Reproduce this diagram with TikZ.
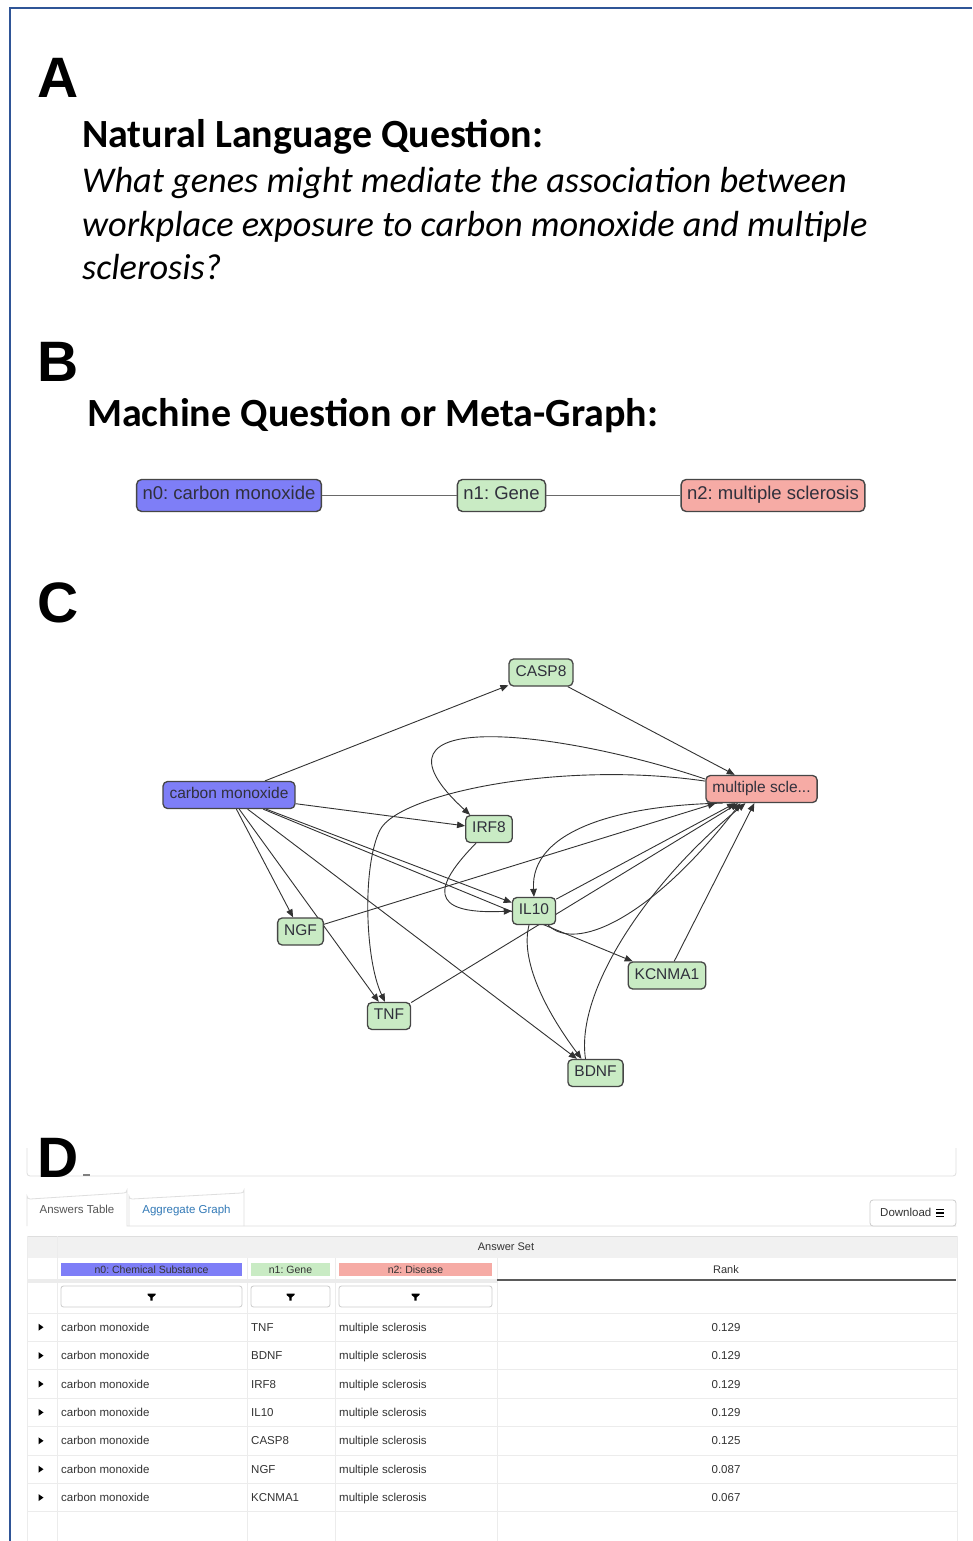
\documentclass[tikz,border=0pt]{standalone}
\usepackage{fontspec}
\setmainfont{Liberation Sans}
\newfontfamily\calfont{Carlito}
\usetikzlibrary{arrows.meta,backgrounds}
\frenchspacing

\definecolor{frameblue}{RGB}{47,85,151}
\definecolor{chemblue}{RGB}{126,126,247}
\definecolor{genegreen}{RGB}{201,235,196}
\definecolor{dissalmon}{RGB}{246,171,165}
\definecolor{nodeline}{RGB}{70,70,70}
\definecolor{nodetext}{RGB}{48,48,60}
\definecolor{edgegray}{RGB}{50,50,50}
\definecolor{metaline}{RGB}{105,105,105}
\definecolor{gridgray}{RGB}{222,222,222}
\definecolor{faintgray}{RGB}{236,236,236}
\definecolor{hdrgray}{RGB}{241,241,241}
\definecolor{tabtext}{RGB}{85,85,85}
\definecolor{linkblue}{RGB}{51,122,183}
\definecolor{celltext}{RGB}{51,51,51}
\definecolor{btnline}{RGB}{204,204,204}
\definecolor{sortline}{RGB}{90,90,90}

\newcommand{\fsz}[1]{\fontsize{#1}{#1}\selectfont}

\tikzset{
  funnel/.pic={\fill[black] (-4,-3) -- (4,-3) -- (4,-1.6) -- (1.2,0.8) -- (1.2,4) -- (-1.2,4) -- (-1.2,0.8) -- (-4,-1.6) -- cycle;},
  expander/.pic={\fill[black] (-2.5,-3.5) -- (2.5,0) -- (-2.5,3.5) -- cycle;},
}

\begin{document}
\begin{tikzpicture}[x=1pt,y=-1pt,
  letter/.style={anchor=base west,inner sep=0pt,font=\bfseries\fsz{57}},
  heading/.style={anchor=base west,inner sep=0pt,font=\calfont\bfseries\fsz{40}},
  question/.style={anchor=base west,inner sep=0pt,font=\calfont\itshape\fsz{36.3}},
  metanode/.style={draw=nodeline,line width=1.4pt,rounded corners=5pt,minimum height=32pt,inner xsep=6pt,inner ysep=0pt,text height=0.72em,text depth=0pt,text=nodetext,font=\fsz{18.5}},
  metaedge/.style={draw=metaline,line width=1.6pt},
  gnode/.style={draw=nodeline,line width=1.3pt,rounded corners=4.5pt,minimum height=27pt,inner xsep=6.5pt,inner ysep=0pt,text height=0.72em,text depth=0pt,text=nodetext,font=\fsz{15.5},fill=genegreen},
  gedge/.style={draw=edgegray,line width=0.9pt,-{Triangle[length=8pt,width=6.5pt]}},
  tabtxt/.style={inner sep=0pt,text height=0.72em,text depth=0pt,font=\fsz{11.5}},
  hdrtxt/.style={inner sep=0pt,text height=0.72em,text depth=0pt,font=\fsz{11},text=celltext},
  collabel/.style={inner sep=0pt,minimum height=13pt,text height=0.72em,text depth=0pt,font=\fsz{10.5},text=celltext},
  filterbtn/.style={draw=btnline,line width=0.8pt,rounded corners=2.5pt,fill=white,minimum height=21pt,inner sep=0pt},
  cell/.style={anchor=base west,inner sep=0pt,font=\fsz{11.5},text=celltext},
  rankcell/.style={anchor=base,inner sep=0pt,font=\fsz{11.5},text=celltext},
]
\useasboundingbox (0,0) rectangle (972,1541);
\begin{pgfonlayer}{background}
  \fill[white] (0,0) rectangle (972,1541);
\end{pgfonlayer}

% outer frame
\draw[frameblue,line width=2.5pt] (10,1541) -- (10,8) -- (972,8);

% ---------- A: question in words ----------
\node[letter] (letA) at (37,98) {A};
\node[heading] (nlq) at (82,148) {Natural Language Question:};
\node[question] (q1) at (82,193) {What genes might mediate the association between};
\node[question] (q2) at (82,236) {workplace exposure to carbon monoxide and multiple};
\node[question] (q3) at (82,279) {sclerosis?};

% ---------- B: meta-graph ----------
\node[letter] (letB) at (37,381) {B};
\node[heading] (mq) at (87,426) {Machine Question or Meta-Graph:};
\node[metanode,fill=chemblue] (q0n) at (229,495.5) {n0: carbon monoxide};
\node[metanode,fill=genegreen] (q1n) at (501.5,495.5) {n1: Gene};
\node[metanode,fill=dissalmon] (q2n) at (773,495.5) {n2: multiple sclerosis};
\draw[metaedge] (q0n) -- (q1n);
\draw[metaedge] (q1n) -- (q2n);

% ---------- C: answer graph ----------
\node[letter] (letC) at (37,622) {C};
\node[gnode,fill=chemblue] (cm) at (229,795) {carbon monoxide};
\node[gnode,fill=dissalmon] (ms) at (761.5,789) {multiple scle...};
\node[gnode] (casp8) at (541,672.5) {CASP8};
\node[gnode] (irf8) at (489,829) {IRF8};
\node[gnode] (il10) at (534,911) {IL10};
\node[gnode] (ngf) at (300.5,931.5) {NGF};
\node[gnode] (tnf) at (389,1016) {TNF};
\node[gnode] (kcnma1) at (667,975.5) {KCNMA1};
\node[gnode] (bdnf) at (595.5,1073) {BDNF};

\begin{pgfonlayer}{background}
  % chemical to genes
  \draw[gedge] (cm) -- (casp8);
  \draw[gedge] (cm) -- (irf8);
  \draw[gedge] (cm) -- (il10);
  \draw[gedge] (cm) -- (kcnma1);
  \draw[gedge] (cm) -- (ngf);
  \draw[gedge] (cm) -- (tnf);
  \draw[gedge] (cm) -- (bdnf);
  % genes to disease
  \draw[gedge] (casp8) -- (ms);
  \draw[gedge] (ngf) -- (ms);
  \draw[gedge] (tnf) -- (ms);
  \draw[gedge] (il10) -- (ms);
  \draw[gedge] (kcnma1) -- (ms);
  \draw[gedge] ([xshift=-10pt]bdnf.north) .. controls (575,990) and (650,880) .. ([xshift=-16pt]ms.south);
  \draw[gedge] ([xshift=-8pt]il10.south east) .. controls (575,952) and (650,920) .. ([xshift=-21pt]ms.south);
  % curved returns
  \draw[gedge] (ms.170) .. controls (560,730) and (350,705) .. ([xshift=5pt]irf8.north west);
  \draw[gedge] (ms.172) .. controls (560,760) and (398,794) .. (380,830) .. controls (362,866) and (365,960) .. ([xshift=-4pt]tnf.north);
  \draw[gedge] (ms.200) .. controls (620,805) and (530,830) .. (il10.north);
  \draw[gedge] ([xshift=-5pt]il10.south) .. controls (520,960) and (545,1010) .. ([xshift=-14pt]bdnf.north);
  \draw[gedge] ([xshift=-13pt]irf8.south) .. controls (435,885) and (425,915) .. (il10.west);
\end{pgfonlayer}

% ---------- D: answers table ----------
\draw[gridgray,line width=0.8pt,rounded corners=3pt] (27,1148) -- (27,1176) -- (956,1176) -- (956,1148);
\node[letter] (letD) at (37,1177) {D};
\draw[gray,line width=1.5pt] (83,1175) -- (90,1175);

% tabs
\draw[gridgray,line width=0.8pt] (27,1226) -- (27,1196) arc[start angle=180,end angle=90,radius=3] -- (124,1193) arc[start angle=90,end angle=0,radius=3] -- (127,1226) -- (956,1226);
\draw[gridgray,line width=0.8pt] (129,1226) -- (129,1196) arc[start angle=180,end angle=90,radius=3] -- (241,1193) arc[start angle=90,end angle=0,radius=3] -- (244,1226);
\node[tabtxt,text=tabtext] (tab1) at (77,1210) {Answers Table};
\node[tabtxt,text=linkblue] (tab2) at (186.5,1210) {Aggregate Graph};
\draw[btnline,line width=0.8pt,fill=white,rounded corners=3pt] (870,1200) rectangle (956,1226);
\node[tabtxt,text=celltext,anchor=west] (dl) at (880,1213) {Download};
\draw[black,line width=1.2pt] (936,1209.5) -- (944,1209.5) (936,1213) -- (944,1213) (936,1216.5) -- (944,1216.5);

% header band
\fill[hdrgray] (27,1236) rectangle (957,1258);
\fill[faintgray] (27,1279) rectangle (497,1283);
\draw[gridgray,line width=0.6pt] (27,1236) -- (957,1236);
\draw[faintgray,line width=0.8pt] (57,1236) -- (57,1541);
\foreach \cx in {247,335,497} \draw[faintgray,line width=0.8pt] (\cx,1258) -- (\cx,1541);
\draw[faintgray,line width=0.8pt] (27,1236) -- (27,1541);
\draw[faintgray,line width=0.8pt] (957,1236) -- (957,1541);
\node[hdrtxt] (aset) at (506,1247) {Answer Set};
\node[collabel,fill=chemblue,minimum width=181pt] (h0) at (151.5,1269.5) {n0: Chemical Substance};
\node[collabel,fill=genegreen,minimum width=79pt] (h1) at (290.5,1269.5) {n1: Gene};
\node[collabel,fill=dissalmon,minimum width=153pt] (h2) at (415.5,1269.5) {n2: Disease};
\node[hdrtxt] (hrank) at (726,1269.5) {Rank};
\draw[sortline,line width=2.5pt] (497,1280) -- (956,1280);

% filter buttons
\node[filterbtn,minimum width=181pt] (f0) at (151.5,1296.5) {};
\node[filterbtn,minimum width=79pt] (f1) at (290.5,1296.5) {};
\node[filterbtn,minimum width=153pt] (f2) at (415.5,1296.5) {};
\pic at (f0) {funnel};
\pic at (f1) {funnel};
\pic at (f2) {funnel};

% rows
\foreach \k in {0,...,7} \draw[faintgray,line width=0.8pt] (27,{1313+28.4*\k}) -- (957,{1313+28.4*\k});
\foreach \g/\r [count=\i from 0] in {TNF/0.129,BDNF/0.129,IRF8/0.129,IL10/0.129,CASP8/0.125,NGF/0.087,KCNMA1/0.067} {
  \pgfmathsetmacro{\yy}{1327.2+28.4*\i}
  \pic at (41,\yy) {expander};
  \node[cell] (c0\i) at (61,\yy+4) {carbon monoxide};
  \node[cell] (c1\i) at (251,\yy+4) {\g};
  \node[cell] (c2\i) at (339,\yy+4) {multiple sclerosis};
  \node[rankcell] (c3\i) at (726,\yy+4) {\r};
}
\end{tikzpicture}
\end{document}
